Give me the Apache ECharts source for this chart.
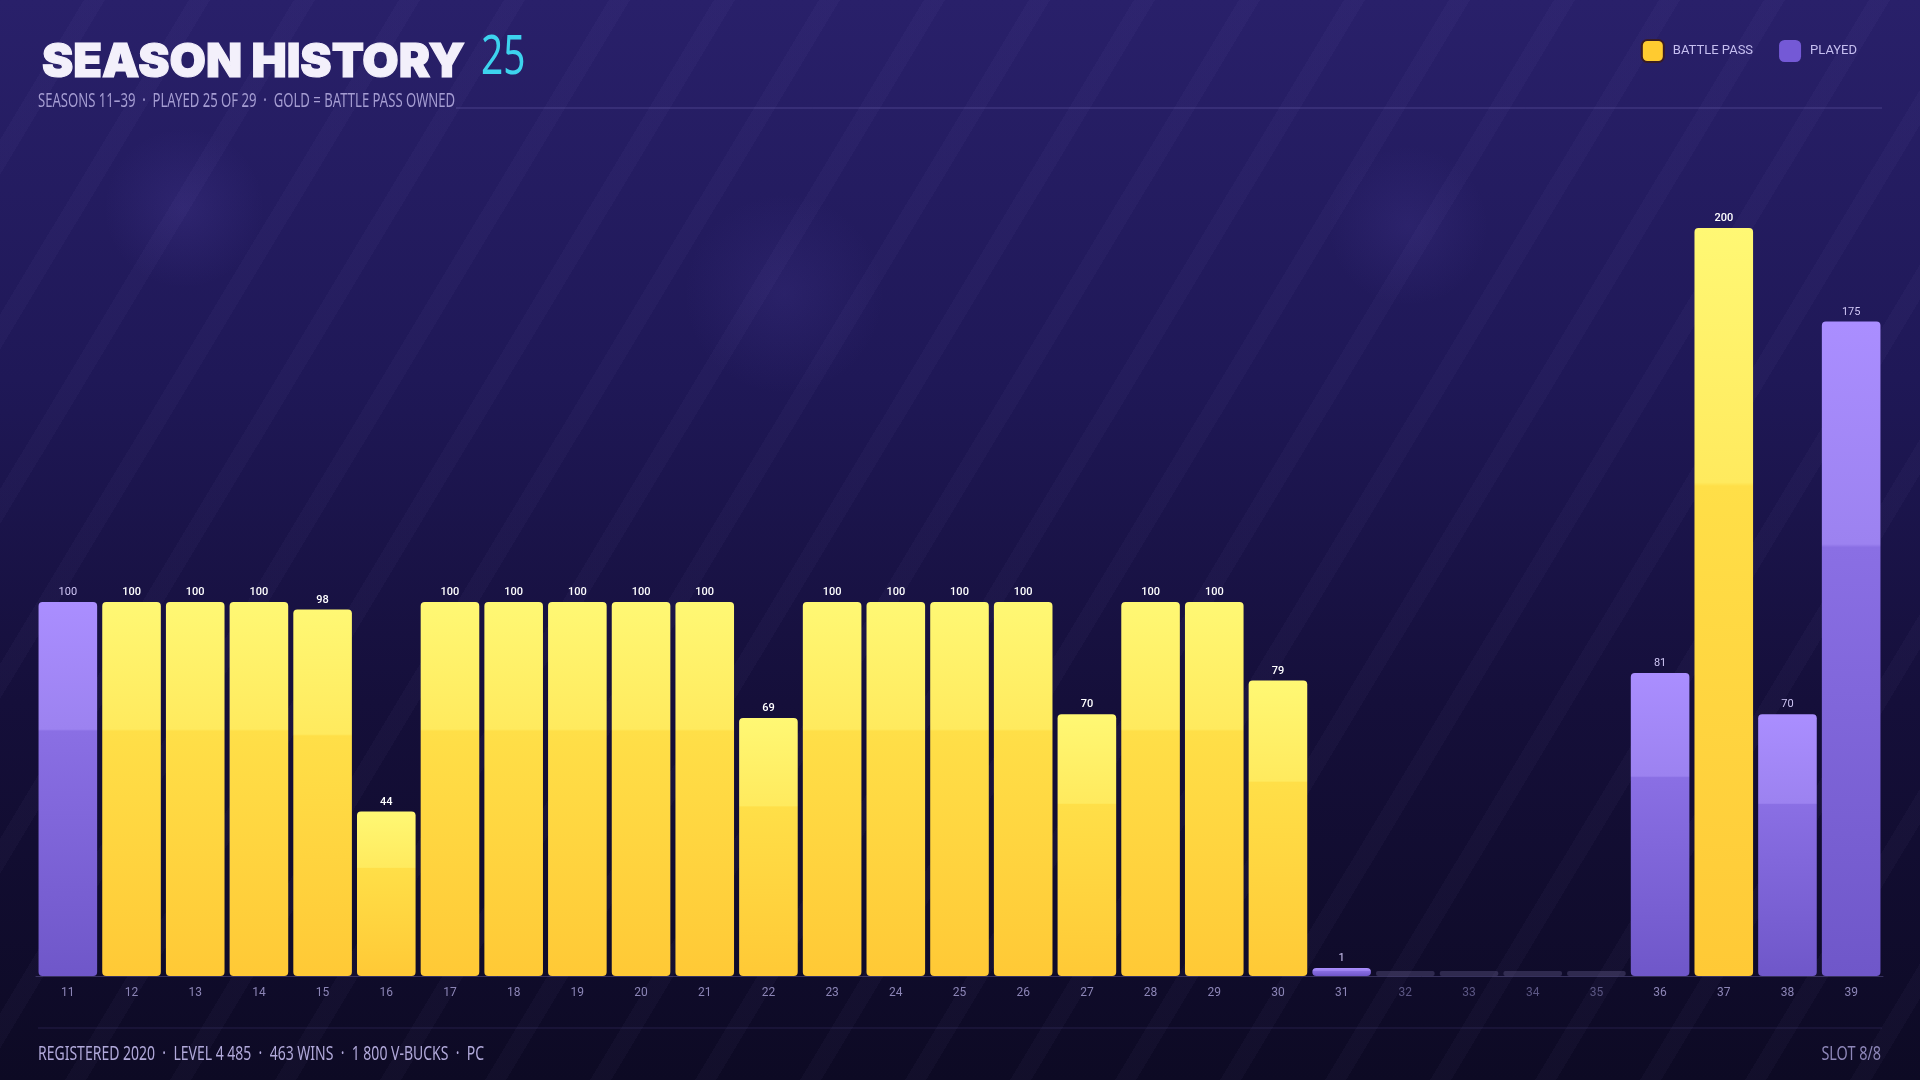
<!DOCTYPE html>
<html>
<head>
<meta charset="utf-8">
<script src="https://cdn.jsdelivr.net/npm/echarts@6/dist/echarts.min.js"></script>
<style>
html,body{margin:0;padding:0;width:1920px;height:1080px;overflow:hidden;}
body{
  background:
    radial-gradient(circle at 184px 208px, rgba(120,100,220,0.12) 0px, rgba(120,100,220,0) 80px),
    radial-gradient(circle at 784px 294px, rgba(120,100,220,0.10) 0px, rgba(120,100,220,0) 100px),
    radial-gradient(circle at 1408px 226px, rgba(120,100,220,0.10) 0px, rgba(120,100,220,0) 80px),
    repeating-linear-gradient(121deg, rgba(255,255,255,0) 0px, rgba(255,255,255,0) 72px, rgba(190,170,255,0.03) 72px, rgba(190,170,255,0.03) 90px),
    linear-gradient(180deg, #29206a 0%, #1f1857 35%, #150f3a 65%, #0d0a24 100%);
}
#chart{width:1920px;height:1080px;}
</style>
</head>
<body>
<div id="chart"></div>
<script>
// ---- data ----
const seasons = ['11','12','13','14','15','16','17','18','19','20','21','22','23','24','25','26','27','28','29','30','31','32','33','34','35','36','37','38','39'];
const levels  = [100,100,100,100,98,44,100,100,100,100,100,69,100,100,100,100,70,100,100,79,1,0,0,0,0,81,200,70,175];
const battlePassOwned = [0,1,1,1,1,1,1,1,1,1,1,1,1,1,1,1,1,1,1,1,0,0,0,0,0,0,1,0,0];
const playedFlags     = [1,1,1,1,1,1,1,1,1,1,1,1,1,1,1,1,1,1,1,1,1,0,0,0,0,1,1,1,1];
const titleText = 'SEASON HISTORY';
const titleCount = '25';
const subtitleText = 'SEASONS 11–39  ·  PLAYED 25 OF 29  ·  GOLD = BATTLE PASS OWNED';
const footerText = 'REGISTERED 2020  ·  LEVEL 4 485  ·  463 WINS  ·  1 800 V-BUCKS  ·  PC';
const slotText = 'SLOT 8/8';

// ---- derived series ----
const bpData = levels.map((v,i)=> battlePassOwned[i] ? v : '-');
const playedData = levels.map((v,i)=> (playedFlags[i] && !battlePassOwned[i]) ? v : '-');
const unplayedData = levels.map((v,i)=> playedFlags[i] ? '-' : v);

const NARROW = '"Noto Sans", Roboto, sans-serif';
const NUM = 'Roboto, "Noto Sans", sans-serif';

const gold = new echarts.graphic.LinearGradient(0,0,0,1,[
  {offset:0,color:'#fff874'},{offset:0.34,color:'#ffea5e'},
  {offset:0.345,color:'#ffdf48'},{offset:1,color:'#ffc936'}]);
const purple = new echarts.graphic.LinearGradient(0,0,0,1,[
  {offset:0,color:'#aa8eff'},{offset:0.34,color:'#9c82f0'},
  {offset:0.345,color:'#8a6fe4'},{offset:1,color:'#6f57c9'}]);

function narrowText(text, x, y, size, color, scaleX, align) {
  return {
    type: 'text', x: x, y: y, scaleX: scaleX, silent: true,
    style: {
      text: text, fill: color,
      font: '400 ' + size + 'px ' + NARROW,
      align: align || 'left', verticalAlign: 'middle'
    }
  };
}

const chart = echarts.init(document.getElementById('chart'), null, {renderer:'canvas'});
chart.setOption({
  backgroundColor: 'transparent',
  animation: false,
  title: [
    {
      left: 37, top: 28,
      text: titleText,
      textStyle: {fontFamily: 'Inter, Lato, sans-serif', fontWeight: 900, fontSize: 47, color: '#f3f0fb', lineHeight: 60,
                  textBorderColor: '#f3f0fb', textBorderWidth: 1.2}
    }
  ],
  legend: {
    right: 58, top: 34,
    icon: 'roundRect',
    itemWidth: 22, itemHeight: 22, itemGap: 26,
    selectedMode: false,
    textStyle: {color: '#c6bff0', fontSize: 13, fontFamily: NUM, padding: [0,0,0,4]},
    data: [
      {name: 'BATTLE PASS', itemStyle: {color: '#ffcb30', borderColor: '#3a1c24', borderWidth: 2}},
      {name: 'PLAYED', itemStyle: {color: '#7459d6'}}
    ]
  },
  graphic: [
    narrowText(titleCount, 481, 59, 54, '#3dd3ee', 0.72),
    narrowText(subtitleText, 38, 102, 19, '#a59dd2', 0.69),
    narrowText(footerText, 38, 1054, 20, '#b1a9da', 0.70),
    narrowText(slotText, 1881, 1054, 20, '#8d86b8', 0.72, 'right'),
    {type: 'line', shape: {x1: 456, y1: 108, x2: 1882, y2: 108}, style: {stroke: 'rgba(140,125,210,0.35)', lineWidth: 1}, silent: true},
    {type: 'line', shape: {x1: 38, y1: 1028, x2: 1882, y2: 1028}, style: {stroke: 'rgba(120,105,190,0.22)', lineWidth: 1}, silent: true}
  ],
  grid: {left: 36, right: 37, top: 228, bottom: 104, containLabel: false},
  xAxis: {
    type: 'category',
    data: seasons,
    axisTick: {show: false},
    axisLine: {show: true, lineStyle: {color: 'rgba(130,120,190,0.35)', width: 1}},
    axisLabel: {
      interval: 0,
      margin: 11,
      fontFamily: NUM, fontSize: 12, color: '#8c85b6',
      formatter: function (v, i) { return playedFlags[i] ? v : '{dim|' + v + '}'; },
      rich: {dim: {fontFamily: NUM, fontSize: 12, color: '#5c5784'}}
    }
  },
  yAxis: {
    type: 'value', min: 0, max: 200, show: false,
    splitLine: {show: false}
  },
  series: [
    {
      name: 'BATTLE PASS', type: 'bar', data: bpData,
      barCategoryGap: '8%', barGap: '-100%',
      itemStyle: {color: gold, borderRadius: 4},
      label: {show: true, position: 'top', distance: 4, fontFamily: NUM, fontWeight: 500, fontSize: 11, color: '#ffffff'}
    },
    {
      name: 'PLAYED', type: 'bar', data: playedData,
      barCategoryGap: '8%', barGap: '-100%', barMinHeight: 8,
      itemStyle: {color: purple, borderRadius: 4},
      label: {show: true, position: 'top', distance: 4, fontFamily: NUM, fontSize: 11, color: '#cfc6f4'}
    },
    {
      name: 'NOT PLAYED', type: 'bar', data: unplayedData,
      barCategoryGap: '8%', barGap: '-100%', barMinHeight: 5,
      itemStyle: {color: 'rgba(110,100,150,0.35)', borderRadius: 2},
      label: {show: false}
    }
  ]
});
</script>
</body>
</html>
